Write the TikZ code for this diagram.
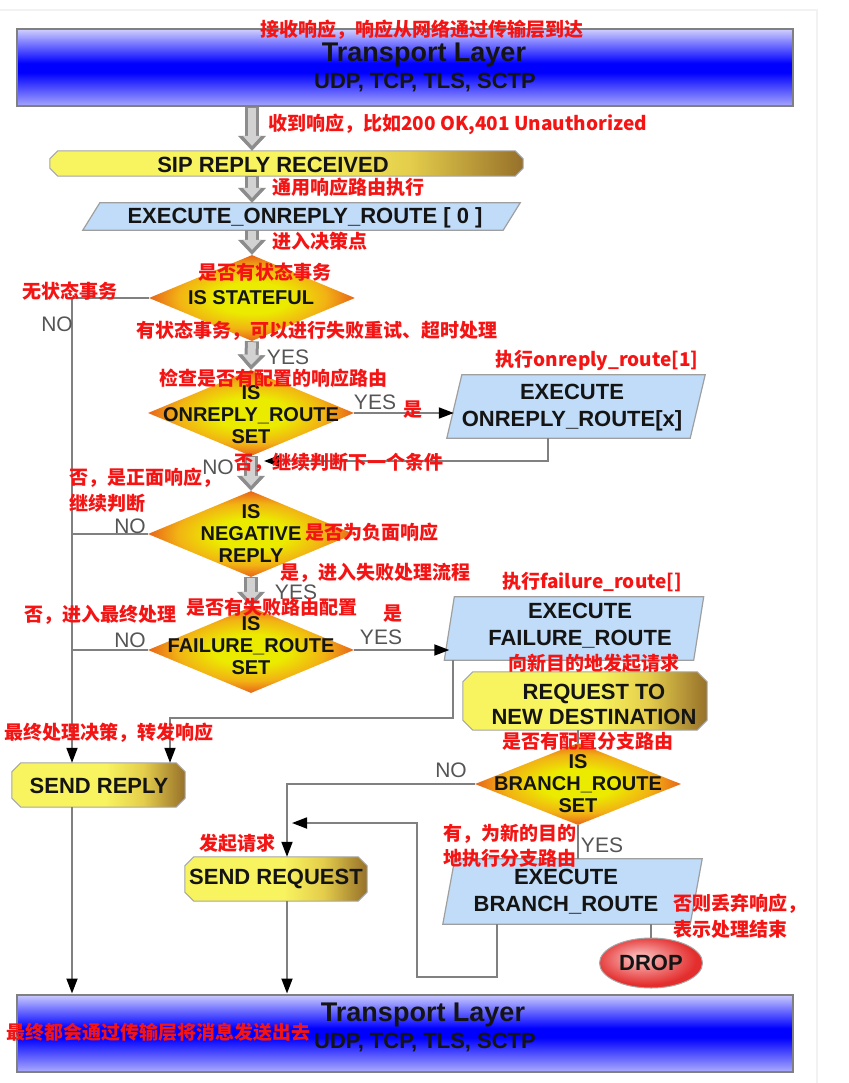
\documentclass[tikz,border=0pt]{standalone}
\usepackage{fontspec}
\setmainfont{Liberation Sans}
\newfontfamily\cjk{Noto Sans CJK SC}
\usetikzlibrary{shapes.geometric,shapes.misc,arrows.meta}

\definecolor{annred}{RGB}{245,20,20}
\definecolor{yngray}{RGB}{85,85,85}
\definecolor{lgray}{RGB}{128,128,128}
\definecolor{paraBlue}{RGB}{192,220,248}
\definecolor{arrOut}{RGB}{140,140,140}
\definecolor{arrIn}{RGB}{210,210,210}
\definecolor{dY}{RGB}{235,235,0}
\definecolor{dO}{RGB}{242,178,20}
\definecolor{dR}{RGB}{232,100,25}
\definecolor{yA}{RGB}{248,244,95}
\definecolor{yB}{RGB}{228,205,75}
\definecolor{yC}{RGB}{150,112,42}
\definecolor{tT}{RGB}{205,205,255}
\definecolor{tB}{RGB}{170,170,255}
\definecolor{tM}{RGB}{0,0,255}
\definecolor{rIn}{RGB}{252,200,200}
\definecolor{rOut}{RGB}{228,45,45}
\definecolor{txt}{RGB}{20,20,20}

\pgfdeclareradialshading{diashade}{\pgfpoint{0bp}{0bp}}{color(0bp)=(dY); color(9bp)=(dY); color(18bp)=(dO); color(25bp)=(dR); color(50bp)=(dR)}
\pgfdeclarehorizontalshading{ybshade}{100bp}{color(0bp)=(yA); color(25bp)=(yA); color(52bp)=(yA); color(63bp)=(yB); color(75bp)=(yC); color(100bp)=(yC)}
\pgfdeclareverticalshading{tlshade}{100bp}{color(0bp)=(tB); color(25bp)=(tB); color(47bp)=(tM); color(53bp)=(tM); color(75bp)=(tT); color(100bp)=(tT)}
\pgfdeclareradialshading{dropshade}{\pgfpoint{-6bp}{6bp}}{color(0bp)=(rIn); color(25bp)=(rOut); color(50bp)=(rOut)}

\tikzset{
  lbl/.style={font=\fontsize{22}{27}\selectfont\bfseries, text=txt, align=center, inner sep=0pt},
  dtxt/.style={font=\fontsize{20}{22}\selectfont\bfseries, text=txt, align=center, inner sep=0pt},
  tltitle/.style={font=\fontsize{27}{30}\selectfont\bfseries, text=txt, inner sep=0pt},
  tlsub/.style={font=\fontsize{22}{24}\selectfont\bfseries, text=txt, inner sep=0pt},
  ann/.style={font=\cjk\bfseries\fontsize{19}{22}\selectfont, text=annred, inner sep=0pt},
  yn/.style={font=\fontsize{21}{22}\selectfont, text=yngray, inner sep=0pt},
  tlayer/.style={rectangle, draw=lgray, line width=2pt, shade, shading=tlshade, minimum width=776pt, minimum height=77pt, inner sep=0pt},
  dia/.style={diamond, shade, shading=diashade, minimum width=206pt, minimum height=86pt, inner sep=0pt},
  pbox/.style={rectangle, draw=none, inner sep=0pt},
  ychm/.style={shade, shading=ybshade, draw=gray!70, line width=1pt},
  para/.style={draw=gray!75, fill=paraBlue, line width=1.2pt},
  dropst/.style={ellipse, shade, shading=dropshade, draw=gray!70, line width=1pt, minimum width=103pt, minimum height=50pt, inner sep=0pt},
  conn/.style={draw=lgray, line width=1.8pt},
  arr/.style={conn, -{Triangle[length=15pt,width=11pt,color=black]}},
  blkO/.style={draw=arrOut, line width=14pt, -{Triangle[length=15pt,width=28pt,line width=0.5pt]}},
  blkI/.style={draw=arrIn, line width=8pt, shorten >=5pt, shorten <=1pt, -{Triangle[length=10pt,width=18pt,line width=0.5pt]}},
}
\newcommand\blkarrow[2]{\draw[blkO] #1 -- #2; \draw[blkI] #1 -- #2;}
\newcommand\parashape[2]{\path[para] ([xshift=#2]#1.north west) -- (#1.north east) -- ([xshift=-#2]#1.south east) -- (#1.south west) -- cycle;}
\newcommand\chamshape[2]{\path[ychm] ([xshift=#2]#1.north west) -- ([xshift=-#2]#1.north east) -- ([yshift=-#2]#1.north east) -- ([yshift=#2]#1.south east) -- ([xshift=-#2]#1.south east) -- ([xshift=#2]#1.south west) -- ([yshift=#2]#1.south west) -- ([yshift=-#2]#1.north west) -- cycle;}

\begin{document}
\begin{tikzpicture}[x=1pt,y=-1pt]
\useasboundingbox (0,0) rectangle (848,1083);
\fill[white] (0,0) rectangle (848,1083);
\draw[gray!10, line width=1.5pt] (0,10) -- (817,10) -- (817,1083);

% nodes
\node[tlayer] (tl1) at (405,68) {};
\node[tltitle] (tl1a) at (424,55) {Transport Layer};
\node[tlsub] (tl1b) at (425,83) {UDP, TCP, TLS, SCTP};

\node[pbox, minimum width=473pt, minimum height=25pt] (sip) at (286.5,163.5) {};
\chamshape{sip}{8pt}
\node[lbl] (sipt) at (273,164.5) {SIP REPLY RECEIVED};

\node[pbox, minimum width=437pt, minimum height=27pt] (or0) at (301.5,216.5) {};
\parashape{or0}{17pt}
\node[lbl] (or0t) at (305,218) {EXECUTE\_ONREPLY\_ROUTE [ 0 ]};

\node[dia] (d1) at (252,298) {};
\node[dtxt] (d1t) at (251,298) {IS STATEFUL};

\node[dia] (d2) at (251,413) {};
\node[dtxt] (d2t) at (251,415) {IS\\ONREPLY\_ROUTE\\SET};

\node[pbox, minimum width=258pt, minimum height=63pt] (onx) at (576,406.5) {};
\parashape{onx}{15pt}
\node[lbl] (onxt) at (572,408) {EXECUTE\\ONREPLY\_ROUTE[x]};

\node[dia] (d3) at (251,534) {};
\node[dtxt] (d3t) at (251,534) {IS\\NEGATIVE\\REPLY};

\node[dia] (d4) at (251,650) {};
\node[dtxt] (d4t) at (251,646) {IS\\FAILURE\_ROUTE\\SET};

\node[pbox, minimum width=259pt, minimum height=63pt] (fail) at (574,628.5) {};
\parashape{fail}{10pt}
\node[lbl] (failt) at (580,626) {EXECUTE\\FAILURE\_ROUTE};

\node[pbox, minimum width=244pt, minimum height=58pt] (req) at (585,701) {};
\chamshape{req}{10pt}
\node[lbl, font=\fontsize{22}{25}\selectfont\bfseries] (reqt) at (594,704) {REQUEST TO\\NEW DESTINATION};

\node[dia, minimum height=82pt] (d5) at (578,784) {};
\node[dtxt] (d5t) at (578,784) {IS\\BRANCH\_ROUTE\\SET};

\node[pbox, minimum width=259pt, minimum height=65pt] (br) at (572.5,891.5) {};
\parashape{br}{12pt}
\node[lbl] (brt) at (566,892) {EXECUTE\\BRANCH\_ROUTE};

\node[dropst] (drop) at (651,963) {};
\node[lbl] (dropt) at (651,963) {DROP};

\node[pbox, minimum width=173pt, minimum height=44pt] (sendreply) at (98.5,785) {};
\chamshape{sendreply}{9pt}
\node[lbl] (sendreplyt) at (99,786) {SEND REPLY};

\node[pbox, minimum width=182pt, minimum height=44pt] (sendreq) at (276,879) {};
\chamshape{sendreq}{9pt}
\node[lbl] (sendreqt) at (276,879) {SEND REQUEST};

\node[tlayer] (tl2) at (405,1033) {};
\node[tltitle] (tl2a) at (423,1015) {Transport Layer};
\node[tlsub] (tl2b) at (425,1043) {UDP, TCP, TLS, SCTP};

% block arrows
\blkarrow{(tl1.south -| d1)}{(sip.north -| d1)}
\blkarrow{(sip.south -| d1)}{(or0.north -| d1)}
\blkarrow{(or0.south -| d1)}{(d1.north)}
\blkarrow{(d1.south)}{(d2.north)}
\blkarrow{(d2.south)}{(d3.north)}
\blkarrow{(d3.south)}{(d4.north)}

% connectors
\coordinate (L) at (72,298);
\draw[arr] (d1.west) -- (L) -- (L |- sendreply.north);
\draw[conn] (d3.west) -- (d3.west -| L);
\draw[conn] (d4.west) -- (d4.west -| L);
\draw[arr] (L |- sendreply.south) -- (L |- tl2.north);
\draw[arr] (d2.east) -- ([xshift=7pt]d2.east -| onx.west);
\coordinate (J1) at (264,461);
\draw[arr] ([xshift=-28pt]onx.south) |- (J1);
\draw[arr] (d4.east) -- ([xshift=5pt]d4.east -| fail.west);
\coordinate (J2) at (170,718);
\draw[arr] ([xshift=9pt]fail.south west) |- (J2) -- (J2 |- sendreply.north);
\draw[conn] (d5.north |- req.south) -- (d5.north);
\coordinate (J3) at (287,784);
\draw[arr] (d5.west) -- (J3) -- (J3 |- sendreq.north);
\draw[conn] (d5.south) -- (d5.south |- br.north);
\coordinate (J4) at (417,977);
\coordinate (J5) at (292,823);
\draw[arr] ([xshift=54pt]br.south west) |- (J4) |- (J5);
\draw[conn] (drop.north) -- (drop.north |- br.south);
\draw[arr] (J3 |- sendreq.south) -- (J3 |- tl2.north);

% gray labels
\node[yn] (n1) at (57,324) {NO};
\node[yn] (y1) at (288,357) {YES};
\node[yn] (y2) at (375,402) {YES};
\node[yn] (n2) at (218,467) {NO};
\node[yn] (n3) at (130,526) {NO};
\node[yn] (y3) at (296,592) {YES};
\node[yn] (n4) at (130,640) {NO};
\node[yn] (y4) at (381,637) {YES};
\node[yn] (n5) at (451,770) {NO};
\node[yn] (y5) at (602,845) {YES};

% red annotations
\node[ann] (a1) at (422,30) {接收响应，响应从网络通过传输层到达};
\node[ann, anchor=west] (a2) at (268,124) {收到响应，比如200 OK,401 Unauthorized};
\node[ann, anchor=west] (a3) at (272,187) {通用响应路由执行};
\node[ann, anchor=west] (a4) at (272,241) {进入决策点};
\node[ann, anchor=west] (a5) at (198,272) {是否有状态事务};
\node[ann, anchor=west] (a6) at (22,291) {无状态事务};
\node[ann] (a7) at (317,331) {有状态事务，可以进行失败重试、超时处理};
\node[ann, anchor=west] (a8) at (159,378) {检查是否有配置的响应路由};
\node[ann] (a9) at (597,360) {执行onreply\_route[1]};
\node[ann, anchor=west] (a10) at (403,410) {是};
\node[ann, anchor=west] (a11) at (234,463) {否，继续判断下一个条件};
\node[ann, anchor=west] (a12) at (69,478) {否，是正面响应，};
\node[ann, anchor=west] (a13) at (69,503) {继续判断};
\node[ann, anchor=west] (a14) at (305,532) {是否为负面响应};
\node[ann, anchor=west] (a15) at (280,573) {是，进入失败处理流程};
\node[ann] (a16) at (592,582) {执行failure\_route[]};
\node[ann, anchor=west] (a17) at (24,615) {否，进入最终处理};
\node[ann, anchor=west] (a18) at (186,607) {是否有失败路由配置};
\node[ann, anchor=west] (a19) at (383,614) {是};
\node[ann] (a20) at (594,663) {向新目的地发起请求};
\node[ann, anchor=west] (a21) at (4,733) {最终处理决策，转发响应};
\node[ann] (a22) at (588,741) {是否有配置分支路由};
\node[ann, anchor=west] (a23) at (199,843) {发起请求};
\node[ann, anchor=west] (a24) at (443,834) {有，为新的目的};
\node[ann, anchor=west] (a25) at (443,858) {地执行分支路由};
\node[ann, anchor=west] (a26) at (673,904) {否则丢弃响应，};
\node[ann, anchor=west] (a27) at (673,929) {表示处理结束};
\node[ann, anchor=west] (a28) at (6,1032) {最终都会通过传输层将消息发送出去};
\end{tikzpicture}
\end{document}
